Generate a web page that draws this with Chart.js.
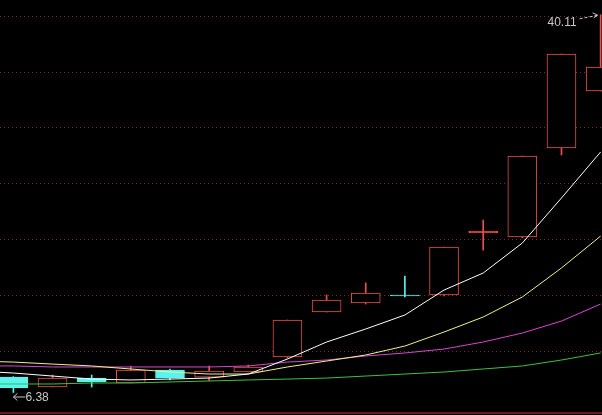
<!DOCTYPE html>
<html>
<head>
<meta charset="utf-8">
<script src="https://cdn.jsdelivr.net/npm/chart.js@4/dist/chart.umd.min.js"></script>
<style>
  html, body { margin: 0; padding: 0; background: #000; overflow: hidden; }
</style>
</head>
<body>
<canvas id="kChart" width="602" height="415"></canvas>
<script>
// daily candles, index 0 = first visible day
var days   = [0, 1, 2, 3, 4, 5, 6, 7, 8, 9, 10, 11, 12, 13, 14, 15];
var opens  = [7.76, 6.87, 7.67, 7.23, 8.39, 7.76, 8.21, 9.55, 13.57, 14.37, 15.09, 15.09, 20.62, 20.27, 28.21, 33.30];
var highs  = [7.80, 7.94, 7.94, 8.75, 8.48, 8.75, 8.83, 12.85, 15.09, 16.16, 16.78, 19.37, 21.78, 27.50, 36.61, 40.11];
var lows   = [6.38, 6.87, 6.87, 7.23, 7.50, 7.41, 8.21, 9.46, 13.57, 14.28, 14.91, 15.00, 19.10, 20.18, 27.59, 33.30];
var closes = [6.78, 7.67, 7.32, 8.39, 7.67, 8.30, 8.66, 12.85, 14.64, 15.26, 15.00, 19.37, 20.80, 27.50, 36.61, 35.45];

// moving averages, first value is the day before the visible range
var maDays = [-1, 0, 1, 2, 3, 4, 5, 6, 7, 8, 9, 10, 11, 12, 13, 14, 15];
var ma5  = [8.30, 8.12, 7.85, 7.58, 7.50, 7.58, 7.67, 8.03, 9.37, 10.89, 12.05, 13.30, 15.53, 17.05, 19.73, 23.75, 27.86];
var ma10 = [9.19, 9.10, 8.92, 8.75, 8.48, 8.21, 8.03, 8.03, 8.66, 9.19, 9.73, 10.53, 11.78, 13.12, 14.91, 17.50, 20.35];
var ma20 = [8.77, 8.75, 8.66, 8.66, 8.66, 8.66, 8.66, 8.75, 9.10, 9.28, 9.64, 9.91, 10.26, 10.89, 11.69, 12.76, 14.28];
var ma60 = [7.14, 7.14, 7.14, 7.23, 7.23, 7.32, 7.41, 7.50, 7.58, 7.67, 7.85, 8.03, 8.21, 8.48, 8.75, 9.28, 9.91];

var gridValues = [10, 15, 20, 25, 30, 35, 40];

var UP = '#e8504c';
var DOWN = '#58f4f0';
var TEXT = '#c8c8c8';

function isUp(i) { return closes[i] >= opens[i]; }

var bodies = [], wicks = [], bodyFill = [], bodyLine = [];
for (var i = 0; i < days.length; i++) {
  bodies.push({ x: days[i], y: [opens[i], closes[i]] });
  wicks.push({ x: days[i], y: [lows[i], highs[i]] });
  bodyLine.push(isUp(i) ? UP : DOWN);
  // hollow red body, except a near-flat one which reads as a thick bar
  if (isUp(i)) bodyFill.push(closes[i] - opens[i] < 0.3 ? UP : '#000');
  else bodyFill.push(DOWN);
}

function maLine(values, color) {
  return {
    type: 'line',
    data: maDays.map(function (d, k) { return { x: d, y: values[k] }; }),
    borderColor: color,
    borderWidth: 1,
    pointRadius: 0,
    tension: 0,
    fill: false,
    order: 0
  };
}

// high / low price labels with little arrows
var markers = {
  id: 'markers',
  afterDatasetsDraw: function (chart) {
    var ctx = chart.ctx, xs = chart.scales.x, ys = chart.scales.y;
    var hi = highs.indexOf(Math.max.apply(null, highs));
    var lo = lows.indexOf(Math.min.apply(null, lows));
    ctx.save();
    ctx.font = '12px "Liberation Sans", Arial, sans-serif';
    ctx.fillStyle = TEXT;
    ctx.strokeStyle = TEXT;
    ctx.lineWidth = 1;

    var hx = xs.getPixelForValue(days[hi]) - 2, hy = ys.getPixelForValue(highs[hi]);
    ctx.textAlign = 'right';
    ctx.textBaseline = 'middle';
    ctx.fillText(highs[hi].toFixed(2), hx - 22, hy + 8);
    ctx.setLineDash([3, 2]);
    ctx.beginPath();
    ctx.moveTo(hx - 19, hy + 4);
    ctx.lineTo(hx - 1, hy + 0.5);
    ctx.stroke();
    ctx.setLineDash([]);
    ctx.beginPath();
    ctx.moveTo(hx - 6, hy - 2);
    ctx.lineTo(hx - 1, hy + 0.5);
    ctx.lineTo(hx - 5, hy + 3);
    ctx.stroke();

    var lx = xs.getPixelForValue(days[lo]), ly = ys.getPixelForValue(lows[lo]) + 4;
    ctx.beginPath();
    ctx.moveTo(lx + 12, ly + 0.5);
    ctx.lineTo(lx, ly + 0.5);
    ctx.moveTo(lx + 4, ly - 3);
    ctx.lineTo(lx, ly + 0.5);
    ctx.lineTo(lx + 4, ly + 4);
    ctx.stroke();
    ctx.textAlign = 'left';
    ctx.fillText(lows[lo].toFixed(2), lx + 12, ly + 1);
    ctx.restore();
  }
};

new Chart(document.getElementById('kChart'), {
  type: 'bar',
  data: {
    datasets: [
      maLine(ma5, '#ffffff'),
      maLine(ma10, '#f4f08c'),
      maLine(ma20, '#d448d0'),
      maLine(ma60, '#40c040'),
      {
        data: bodies,
        backgroundColor: bodyFill,
        borderColor: bodyLine,
        borderWidth: 1,
        borderSkipped: false,
        barThickness: 29,
        grouped: false,
        order: 1
      },
      {
        data: wicks,
        backgroundColor: bodyLine,
        borderWidth: 0,
        barThickness: 1,
        grouped: false,
        order: 2
      }
    ]
  },
  options: {
    responsive: false,
    animation: false,
    layout: { padding: { left: 0, right: 0, top: 0, bottom: 2 } },
    plugins: { legend: { display: false }, tooltip: { enabled: false } },
    scales: {
      x: {
        type: 'linear',
        min: -0.342,
        max: 15.035,
        offset: false,
        grid: { display: false, drawTicks: false },
        ticks: { display: false },
        border: { display: true, color: '#6a1818', width: 2 }
      },
      y: {
        type: 'linear',
        min: 4.55,
        max: 41.43,
        afterBuildTicks: function (s) {
          s.ticks = gridValues.map(function (v) { return { value: v }; });
        },
        grid: { color: '#6e3030', lineWidth: 1, drawTicks: false },
        border: { display: false, dash: [1, 3] },
        ticks: { display: false }
      }
    }
  },
  plugins: [markers]
});
</script>
</body>
</html>
